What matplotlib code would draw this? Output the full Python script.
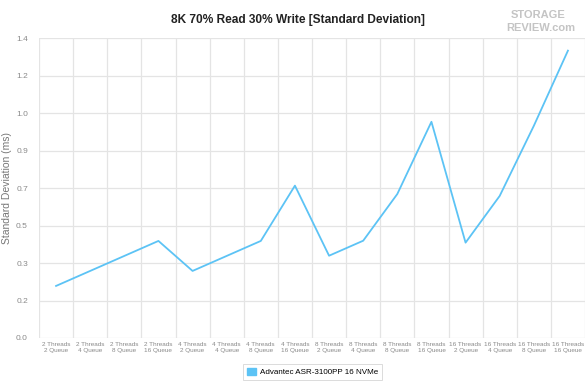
import matplotlib
matplotlib.use("Agg")
import matplotlib.pyplot as plt
from matplotlib.patches import Patch
import numpy as np

plt.rcParams["font.family"] = ["Liberation Sans", "DejaVu Sans"]

threads = ["2", "2", "2", "2", "4", "4", "4", "4", "8", "8", "8", "8", "16", "16", "16", "16"]
queues = ["2", "4", "8", "16"] * 4
std_dev = [0.243, 0.313, 0.383, 0.453, 0.313, 0.383, 0.453, 0.711,
           0.384, 0.454, 0.672, 1.009, 0.445, 0.663, 0.99, 1.341]
y_ticks = [0.0, 0.175, 0.35, 0.525, 0.7, 0.875, 1.05, 1.225, 1.4]
y_labels = ["0.0", "0.2", "0.3", "0.5", "0.7", "0.9", "1.0", "1.2", "1.4"]
series_name = "Advantec ASR-3100PP 16 NVMe"

LINE = "#5cc3f5"
GRID = "#e4e4e4"
TXT = "#8a8a8a"

fig = plt.figure(figsize=(5.85, 3.9), dpi=100)
ax = fig.add_axes([39 / 585, 1 - 338 / 390, 546 / 585, 300 / 390])

x = np.arange(len(std_dev))
ax.plot(x, std_dev, color=LINE, lw=1.3, zorder=3)

ax.set_xlim(-0.5, len(std_dev) - 0.5)
ax.set_ylim(0, 1.4)
ax.set_yticks(y_ticks)
ax.set_yticklabels(y_labels)
ax.set_xticks(x)
ax.set_xticklabels([f"{t} Threads\n{q} Queue" for t, q in zip(threads, queues)])
ax.set_xticks(np.arange(-0.5, len(std_dev)), minor=True)

ax.grid(True, axis="y", color=GRID, lw=0.9)
ax.grid(True, axis="x", which="minor", color=GRID, lw=0.9)
ax.grid(False, axis="x", which="major")
ax.tick_params(axis="both", which="both", length=0)
ax.tick_params(axis="x", labelsize=4.6, labelcolor=TXT, pad=3)
ax.tick_params(axis="y", labelsize=6, labelcolor=TXT, pad=8)
for lab in ax.get_xticklabels():
    lab.set_linespacing(1.2)
for s in ax.spines.values():
    s.set_visible(False)
ax.set_ylabel("Standard Deviation (ms)", fontsize=7.5, color="#777777", labelpad=3)

fig.text(0.509, 0.948, "8K 70% Read 30% Write [Standard Deviation]", ha="center", va="center",
         fontsize=8.6, fontweight="bold", color="#222222")

# logo
fig.text(0.92, 0.962, "STORAGE", ha="center", va="center", fontsize=8, fontweight="bold",
         color="#c4c4c4")
fig.text(0.925, 0.928, "REVIEW.com", ha="center", va="center", fontsize=8, fontweight="bold",
         color="#c4c4c4")

leg = fig.legend(handles=[Patch(facecolor=LINE, edgecolor=LINE, label=series_name)],
                 loc="center", bbox_to_anchor=(0.534, 0.046), fontsize=5.8, frameon=True,
                 fancybox=False, handlelength=1.1, handleheight=1.1, borderpad=0.45,
                 handletextpad=0.5)
leg.get_frame().set_edgecolor("#cccccc")
leg.get_frame().set_linewidth(0.6)

fig.savefig("out.png", dpi=100)
